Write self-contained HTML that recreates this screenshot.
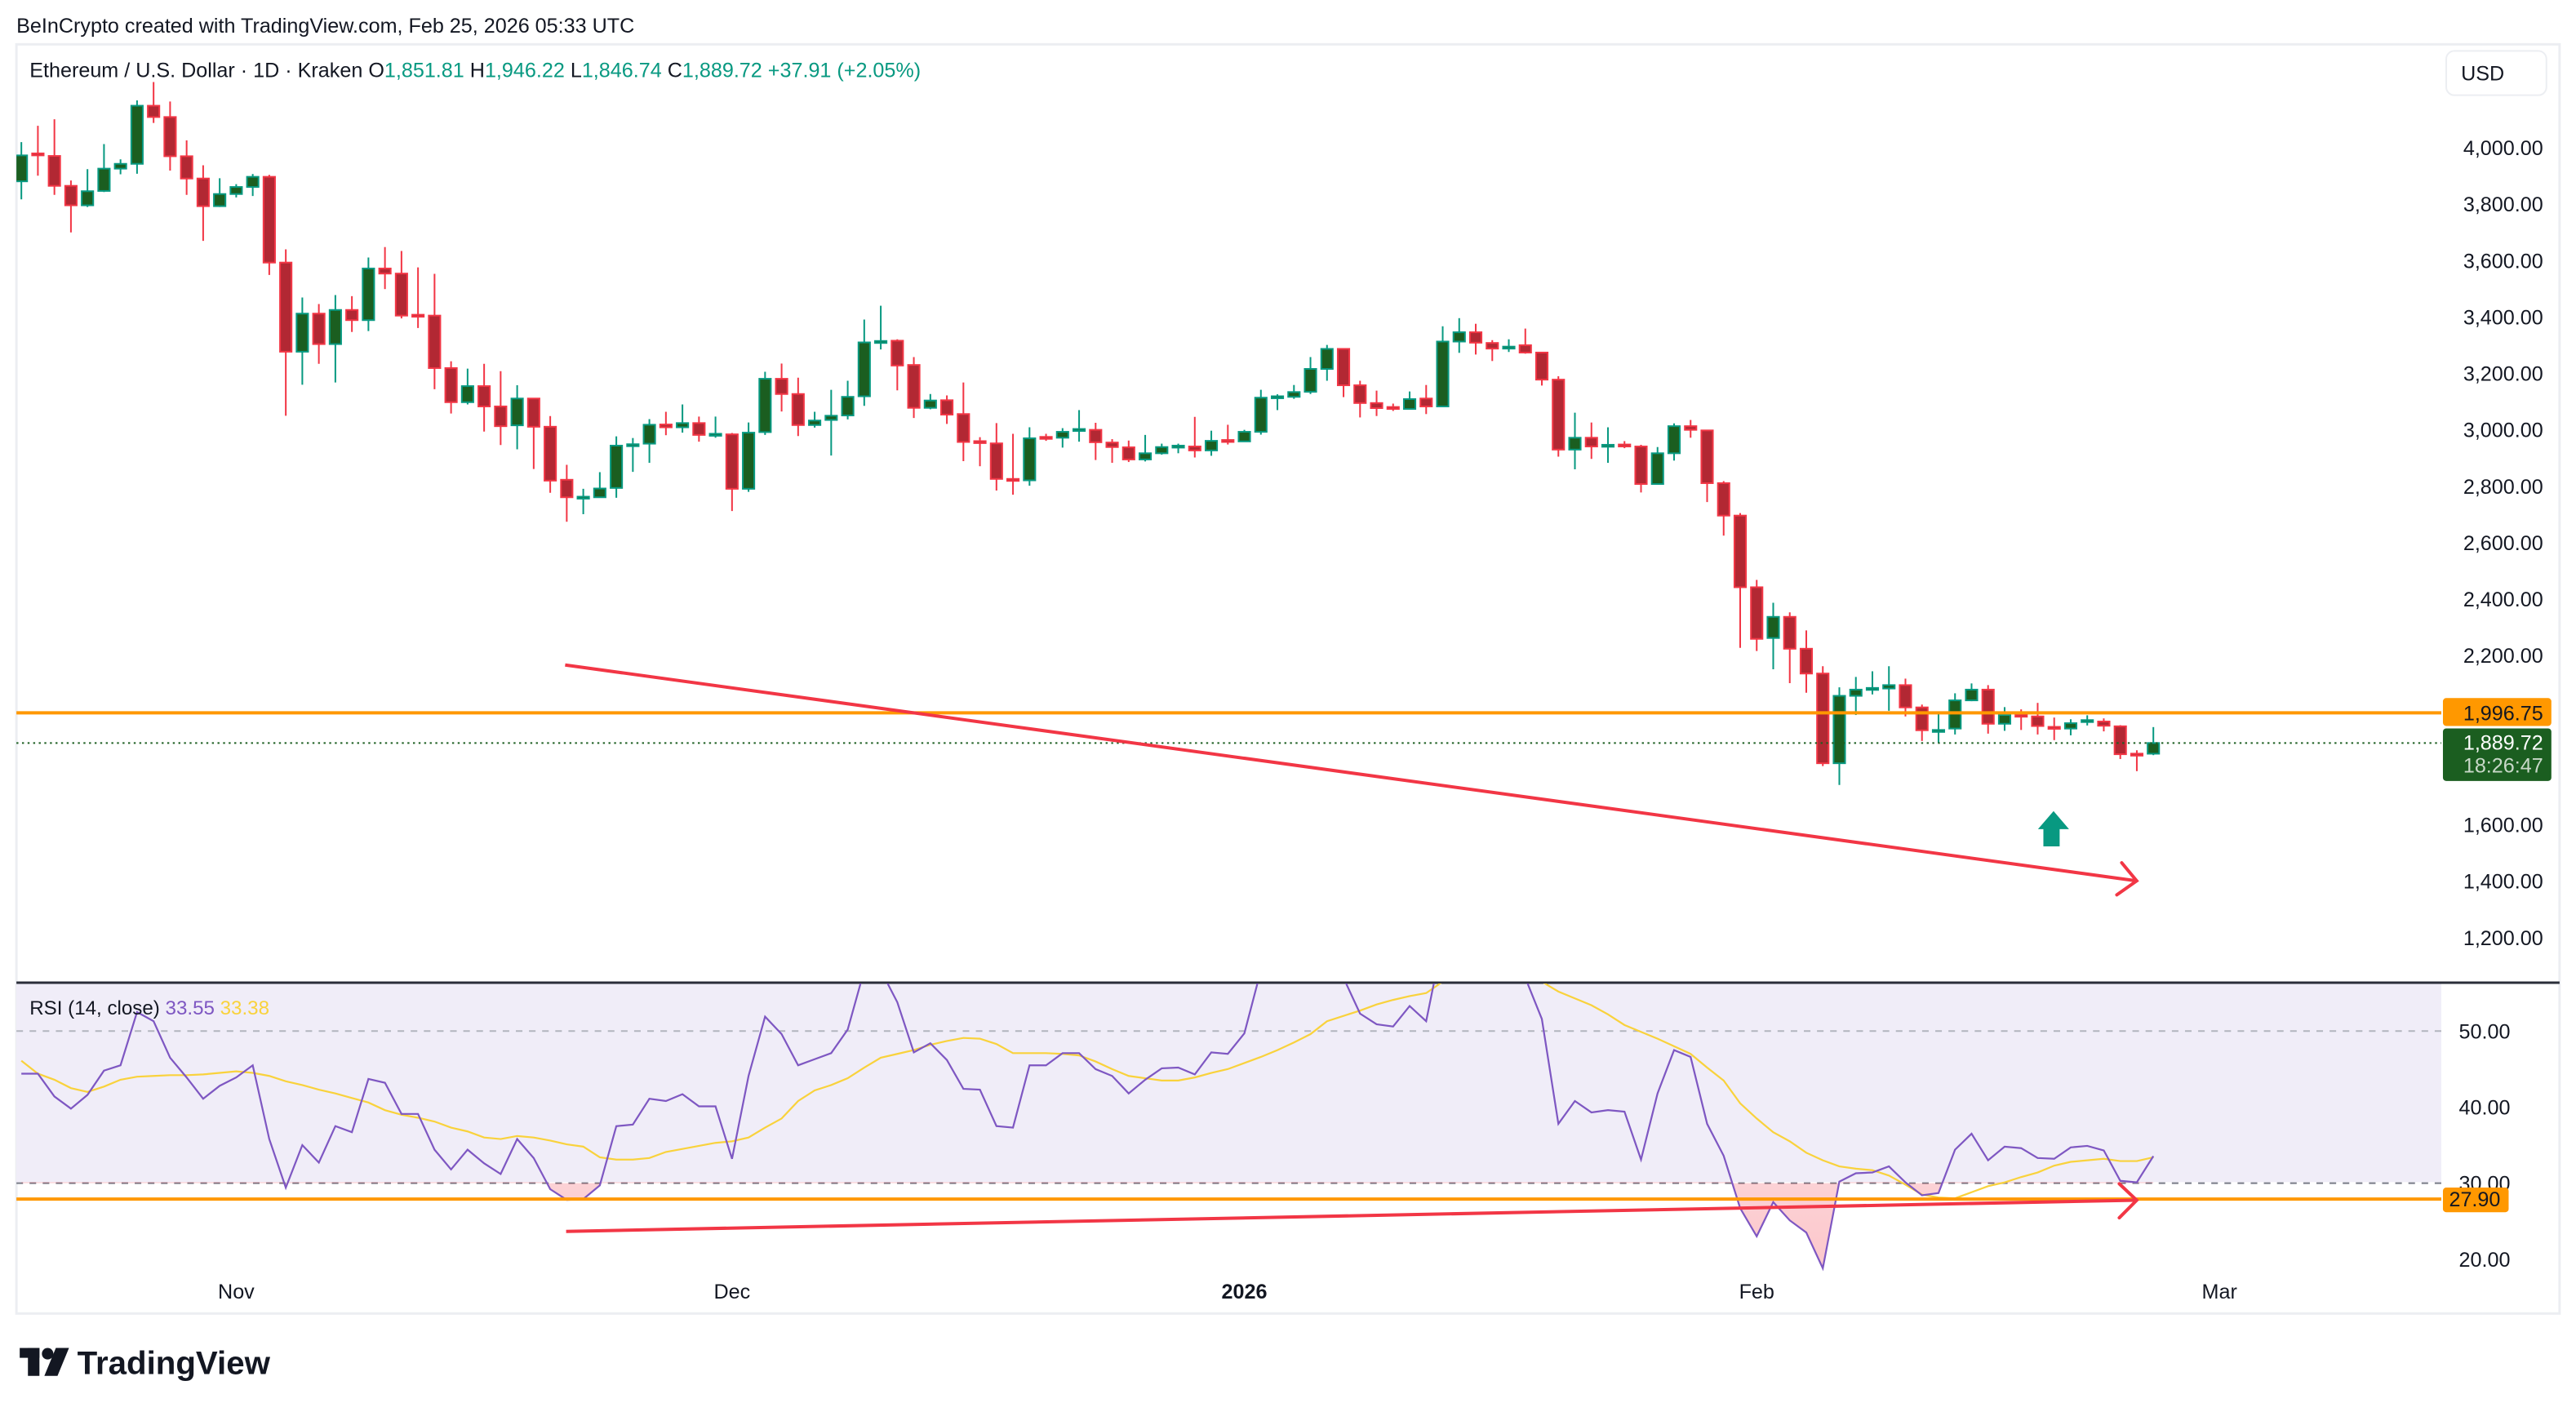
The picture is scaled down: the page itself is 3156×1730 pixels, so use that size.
<!DOCTYPE html>
<html><head><meta charset="utf-8">
<style>
html,body{margin:0;padding:0;background:#fff;}
svg{display:block;}
text{font-family:"Liberation Sans",sans-serif;}
</style></head>
<body>
<svg id="chart" xmlns="http://www.w3.org/2000/svg" width="3156" height="1730" viewBox="0 0 1568 860" preserveAspectRatio="none">
<defs>
<clipPath id="pclip"><rect x="10" y="27" width="1476" height="571"/></clipPath>
<clipPath id="rclip"><rect x="10" y="599" width="1476" height="182"/></clipPath>
<clipPath id="oclip"><rect x="10" y="720" width="1476" height="80"/></clipPath>
<linearGradient id="pinkg" x1="0" y1="0" x2="0" y2="1"><stop offset="0" stop-color="#f23645" stop-opacity="0.05"/><stop offset="1" stop-color="#f23645" stop-opacity="0.28"/></linearGradient>
</defs>
<text x="10" y="20" font-size="12.5" fill="#131722">BeInCrypto created with TradingView.com, Feb 25, 2026 05:33 UTC</text>
<rect x="10" y="27" width="1548" height="773" fill="#fff" stroke="#eceef2" stroke-width="1.5"/>
<rect x="10" y="599" width="1476" height="121" fill="#f0edf8"/>
<line x1="10" y1="598.5" x2="1558" y2="598.5" stroke="#2a2e39" stroke-width="1.5"/>
<text x="18" y="47" font-size="12.5" fill="#131722">Ethereum / U.S. Dollar · 1D · Kraken  <tspan>O</tspan><tspan fill="#089981">1,851.81</tspan>  H<tspan fill="#089981">1,946.22</tspan>  L<tspan fill="#089981">1,846.74</tspan>  C<tspan fill="#089981">1,889.72</tspan>  <tspan fill="#089981">+37.91 (+2.05%)</tspan></text>
<rect x="1489" y="31" width="61" height="27" rx="5" fill="#fff" stroke="#eceef2"/>
<text x="1498" y="49" font-size="12.5" fill="#131722">USD</text>
<g id="price-ticks"></g>
<g id="candles" clip-path="url(#pclip)"></g>
<g id="rsi-grid"></g>
<g id="rsi-series"></g>
<g id="annot"></g>
<g id="time-axis"></g>
<g>
<rect x="12" y="821" width="12" height="6" fill="#131722"/>
<rect x="17" y="821" width="7" height="17" fill="#131722"/>
<circle cx="29" cy="824.5" r="3.5" fill="#131722"/>
<polygon points="34,821 42,821 35,838 27,838" fill="#131722"/>
<text x="47" y="837" font-size="20" font-weight="bold" fill="#131722">TradingView</text>
</g>
</svg>
<script>
const NS="http://www.w3.org/2000/svg";
const opens=[3881,3980,3971,3865,3796,3847,3926,3943,4149,4109,3970,3891,3793,3836,3861,3897,3593,3277,3412,3304,3425,3389,3572,3554,3408,3405,3219,3098,3155,3083,3016,3111,3011,2823,2758,2761,2794,2946,2951,3019,3009,3024,2983,2984,2791,2992,3181,3127,3017,3035,3051,3119,3312,3316,3230,3078,3105,3056,2960,2952,2826,2821,2975,2972,3000,3000,2955,2938,2895,2917,2941,2941,2927,2964,2959,2993,3116,3117,3135,3216,3287,3158,3095,3081,3074,3111,3083,3313,3346,3308,3292,3300,3274,3178,2930,2972,2944,2948,2941,2808,2917,3013,2998,2811,2696,2442,2262,2337,2224,2136,1818,2057,2083,2083,2095,2016,1933,1941,2041,2079,1958,1990,1984,1947,1941,1968,1966,1949,1852,1851.81];
const closes=[3973,3975,3865,3796,3846,3926,3943,4149,4109,3970,3891,3793,3836,3861,3897,3593,3277,3412,3304,3425,3389,3572,3554,3405,3403,3219,3098,3155,3083,3013,3111,3011,2820,2761,2763,2792,2944,2949,3018,3009,3024,2982,2986,2791,2990,3181,3127,3017,3033,3050,3117,3310,3315,3228,3078,3104,3054,2957,2955,2826,2821,2970,2972,2993,3003,2956,2939,2895,2917,2939,2944,2927,2961,2960,2993,3114,3119,3134,3216,3287,3158,3095,3077,3077,3109,3083,3313,3346,3309,3288,3295,3274,3178,2930,2972,2941,2947,2945,2808,2917,3013,3000,2811,2696,2442,2259,2337,2224,2136,1818,2057,2079,2085,2095,2016,1935,1936,2041,2079,1958,1989,1987,1950,1944,1960,1971,1951,1850,1850,1889.72];
const highs=[4020,4078,4101,3884,3924,4013,3959,4168,4233,4164,4026,3938,3892,3871,3907,3904,3640,3469,3446,3478,3474,3611,3648,3634,3576,3553,3243,3217,3234,3208,3158,3111,3049,2876,2791,2850,2977,2971,3038,3064,3090,3047,3047,2989,3026,3206,3235,3185,3064,3142,3174,3391,3440,3321,3258,3127,3122,3168,2974,3024,2986,3009,2986,3006,3070,3025,2967,2962,2982,2951,2951,3046,2997,3018,3000,3142,3126,3159,3258,3301,3287,3174,3139,3093,3136,3159,3367,3396,3376,3318,3321,3359,3274,3190,3061,3026,3009,2960,2947,2939,3023,3035,2998,2818,2705,2468,2387,2353,2289,2162,2087,2124,2144,2162,2118,2026,1993,2066,2101,2095,2017,2009,2032,1980,1974,1988,1977,1953,1864,1946.22];
const lows=[3817,3901,3833,3700,3790,3843,3906,3908,4088,3919,3833,3670,3790,3824,3829,3549,3050,3160,3234,3168,3347,3350,3499,3395,3361,3144,3058,3090,2994,2946,2931,2861,2777,2674,2701,2761,2759,2851,2883,2981,2990,2958,2972,2712,2780,2982,3065,2978,3008,2909,3037,3085,3285,3140,3042,3073,3021,2889,2871,2785,2770,2802,2961,2937,2958,2893,2883,2886,2888,2912,2917,2902,2908,2948,2957,2983,3070,3110,3127,3174,3116,3044,3049,3067,3074,3056,3083,3273,3267,3244,3276,3270,3157,2905,2860,2897,2883,2935,2778,2805,2891,2972,2744,2625,2227,2216,2151,2102,2068,1808,1741,1989,2062,2004,1984,1897,1891,1920,2038,1923,1933,1936,1920,1900,1917,1952,1931,1833,1790,1846.74];
const rsiValues=[44.4,44.4,41.4,39.8,41.6,44.8,45.5,52.5,51.3,46.5,43.9,41.1,42.8,43.9,45.5,35.8,29.4,35.0,32.7,37.5,36.7,43.7,43.2,39.1,39.1,34.4,31.8,34.4,32.6,31.2,35.8,33.3,29.2,27.8,27.9,29.7,37.5,37.7,41.1,40.8,41.7,40.1,40.1,33.2,44.1,51.9,49.6,45.5,46.3,47.1,50.2,58,58,53.8,47.2,48.4,46.2,42.4,42.3,37.5,37.3,45.5,45.5,47.1,47.1,45.0,44.1,41.8,43.6,45.1,45.2,44.3,47.2,47.0,49.7,58,60,62,64,66,57,52.3,50.9,50.6,53.3,51.3,62,63,61,59,59,57,51.6,37.8,40.8,39.3,39.6,39.4,33.1,41.8,47.5,46.6,37.8,33.6,26.7,23.0,27.5,25.1,23.5,18.8,30.2,31.3,31.4,32.2,30.1,28.4,28.7,34.4,36.5,33.0,34.8,34.6,33.3,33.2,34.7,34.9,34.3,30.3,30.1,33.55];
const rsiMA=[46.1,44.4,43.6,42.5,42.0,42.7,43.6,44.0,44.1,44.2,44.2,44.3,44.5,44.7,44.5,44.1,43.4,42.9,42.3,41.8,41.2,40.6,39.6,39.0,38.6,38.1,37.3,36.8,36.0,35.8,36.2,36.0,35.6,35.1,34.8,33.4,33.1,33.1,33.3,34.1,34.5,34.9,35.3,35.5,36.0,37.3,38.5,40.8,42.2,42.9,43.8,45.2,46.5,47.0,47.5,48.2,48.7,49.1,49.0,48.3,47.1,47.1,47.1,47.0,46.8,46.0,45.0,44.1,43.8,43.5,43.5,43.9,44.5,45.0,45.8,46.6,47.5,48.5,49.6,51.3,52.0,52.7,53.5,54.1,54.6,55.0,56.5,57.5,58,58.3,58,57.3,56.5,55.2,54.3,53.4,52.2,50.8,49.9,49.0,48,47,45.2,43.5,40.5,38.5,36.7,35.5,34.0,33.0,32.2,31.9,31.7,31.0,29.8,28.5,28.1,28.0,28.8,29.6,30.1,30.8,31.4,32.3,32.8,33.0,33.2,32.9,32.9,33.4];
const priceTicks=[4000,3800,3600,3400,3200,3000,2800,2600,2400,2200,1600,1400,1200];
const rsiTicks=[50,40,30,20];
const timeLabels=["Nov","Dec","2026","Feb","Mar"];
const timeIndex=[13,43,74,105,133];
const supportPrice=1996.75, lastPrice=1889.72, rsiSupport=27.90;

const X=i=>13+10.06*i;
const Y=p=>90+(4000-p)*0.1718;
const RY=v=>628+(50-v)*4.63;
function mk(tag,attrs,parent,txt){const e=document.createElementNS(NS,tag);for(const k in attrs)e.setAttribute(k,attrs[k]);if(txt!==undefined)e.textContent=txt;parent.appendChild(e);return e;}
const g=id=>document.getElementById(id);

// price ticks
priceTicks.forEach(p=>{
  const t=mk('text',{x:1548,y:Y(p)+4.5,'font-size':12.5,fill:'#131722','text-anchor':'end'},g('price-ticks'),p.toLocaleString('en-US',{minimumFractionDigits:2}));
  
  
});
// candles
for(let i=0;i<opens.length;i++){
  const up=closes[i]>=opens[i];
  const bc=up?'#089981':'#f23645', fc=up?'#1b5e20':'#b22833';
  const x=X(i);
  const w=mk('line',{x1:x,x2:x,y1:Y(highs[i]),y2:Y(lows[i]),stroke:bc,'stroke-width':1},g('candles'));
  
  
  const top=Y(Math.max(opens[i],closes[i])), bot=Y(Math.min(opens[i],closes[i]));
  const b=mk('rect',{x:x-3.5,y:top,width:7,height:Math.max(bot-top,1.2),fill:fc,stroke:bc,'stroke-width':1},g('candles'));
  
  
}
// support + last price lines
const sl=mk('line',{x1:10,x2:1486,y1:Y(supportPrice),y2:Y(supportPrice),stroke:'#ff9800','stroke-width':2},g('annot'));


const lp=mk('line',{x1:10,x2:1486,y1:Y(lastPrice),y2:Y(lastPrice),stroke:'#1b5e20','stroke-width':1,'stroke-dasharray':'1.2 2.2'},g('annot'));


const sb=mk('rect',{x:1487,y:Y(supportPrice)-9,width:66,height:17,rx:2,fill:'#ff9800'},g('annot'));


mk('text',{x:1548,y:Y(supportPrice)+4.5,'font-size':12.5,fill:'#131722','text-anchor':'end'},g('annot'),supportPrice.toLocaleString('en-US',{minimumFractionDigits:2}));
const lb=mk('rect',{x:1487,y:Y(supportPrice)+9.5,width:66,height:32,rx:2,fill:'#1b5e20'},g('annot'));


mk('text',{x:1548,y:Y(lastPrice)+4,'font-size':12.5,fill:'#fff','text-anchor':'end'},g('annot'),lastPrice.toLocaleString('en-US',{minimumFractionDigits:2}));
mk('text',{x:1548,y:Y(lastPrice)+18,'font-size':12.5,fill:'#c8d8c8','text-anchor':'end'},g('annot'),'18:26:47');

// price trend line + arrow
const tl=mk('polyline',{points:'344,405 1300.6,536.5',fill:'none',stroke:'#f23645','stroke-width':2},g('annot'));


const ta=mk('polyline',{points:'1291.5,525.5 1300.6,536.5 1288.5,545',fill:'none',stroke:'#f23645','stroke-width':2,'stroke-linecap':'round'},g('annot'));


const ga=mk('polygon',{points:'1250,494 1259.4,505 1253.7,505 1253.7,515.5 1243.8,515.5 1243.8,505 1240.5,505',fill:'#089981'},g('annot'));



// RSI grid
[[50,'#b2b5be'],[30,'#787b86']].forEach(([v,c])=>{
  const d=mk('line',{x1:10,x2:1486,y1:RY(v),y2:RY(v),stroke:c,'stroke-width':1,'stroke-dasharray':'4 4'},g('rsi-grid'));
  
  
});
rsiTicks.forEach(v=>{
  const t=mk('text',{x:1528,y:RY(v)+4.5,'font-size':12.5,fill:'#131722','text-anchor':'end'},g('rsi-grid'),v.toFixed(2));
  
  
});
// RSI oversold fill
let fp='M'+X(0)+','+RY(30);
rsiValues.forEach((v,i)=>{fp+=' L'+X(i)+','+RY(v);});
fp+=' L'+X(rsiValues.length-1)+','+RY(30)+' Z';
const of=mk('path',{d:fp,fill:'url(#pinkg)','clip-path':'url(#oclip)'},g('rsi-series'));


const ma=mk('polyline',{points:rsiMA.map((v,i)=>X(i)+','+RY(v)).join(' '),fill:'none',stroke:'#f9d23c','stroke-width':1.1,'clip-path':'url(#rclip)'},g('rsi-series'));


const rl=mk('polyline',{points:rsiValues.map((v,i)=>X(i)+','+RY(v)).join(' '),fill:'none',stroke:'#7e57c2','stroke-width':1.1,'clip-path':'url(#rclip)'},g('rsi-series'));


// RSI support
const rs=mk('line',{x1:10,x2:1486,y1:RY(rsiSupport),y2:RY(rsiSupport),stroke:'#ff9800','stroke-width':2},g('rsi-series'));


const rsb=mk('rect',{x:1487,y:RY(rsiSupport)-7,width:40,height:15,rx:2,fill:'#ff9800'},g('rsi-series'));


mk('text',{x:1522,y:RY(rsiSupport)+4.5,'font-size':12.5,fill:'#131722','text-anchor':'end'},g('rsi-series'),rsiSupport.toFixed(2));
const rt=mk('polyline',{points:'344.6,750 1300.6,731',fill:'none',stroke:'#f23645','stroke-width':2},g('rsi-series'));


const rta=mk('polyline',{points:'1290,721 1300.6,731 1290,741.7',fill:'none',stroke:'#f23645','stroke-width':2,'stroke-linecap':'round'},g('rsi-series'));


const rlab=mk('text',{x:18,y:618,'font-size':12,fill:'#131722'},g('rsi-series'),'RSI (14, close) ');


mk('tspan',{fill:'#7e57c2'},rlab,' 33.55 ');
mk('tspan',{fill:'#f9d23c'},rlab,' 33.38');

// time axis
timeLabels.forEach((s,k)=>{
  const t=mk('text',{x:X(timeIndex[k]),y:791,'font-size':12.5,fill:'#131722','text-anchor':'middle','font-weight':s==='2026'?'bold':'normal'},g('time-axis'),s);
  
  
});
</script>
</body></html>
